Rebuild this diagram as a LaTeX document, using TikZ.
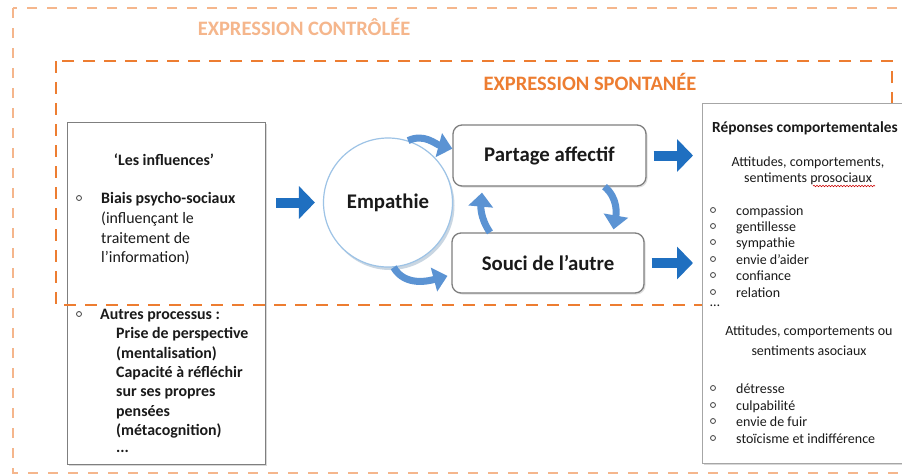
\documentclass[tikz,border=0pt]{standalone}
\usepackage{fontspec}
\setmainfont{Carlito}
\usetikzlibrary{arrows.meta,decorations.pathmorphing,shadows}
\definecolor{lorange}{HTML}{F5B68C}
\definecolor{dorange}{HTML}{ED7D31}
\definecolor{bblue}{HTML}{1F6FC0}
\definecolor{cblue}{HTML}{5B93D3}
\definecolor{ringblue}{HTML}{9DC3E6}
\definecolor{boxgray}{HTML}{7F7F7F}
\definecolor{txt}{HTML}{1A1A1A}
\newcommand{\lfnt}{\fontsize{15.9}{19}\selectfont}
\newcommand{\rfnt}{\fontsize{14}{17}\selectfont}
\newcommand{\bigfnt}{\fontsize{20.8}{25}\selectfont\bfseries}
\begin{document}
\begin{tikzpicture}[x=1pt,y=-1pt,
  outerdash/.style={draw=lorange,line width=2.2pt,dash pattern=on 10pt off 10pt},
  innerdash/.style={draw=dorange,line width=2.8pt,dash pattern=on 12pt off 9pt},
  sqbox/.style={draw=boxgray,line width=1.3pt,fill=white,inner sep=0pt,
    drop shadow={shadow xshift=1.5pt,shadow yshift=-1.5pt,fill=black!30}},
  rbox/.style={draw=boxgray,line width=1.3pt,fill=white,rounded corners=9pt,
    font=\bigfnt,text=txt,inner sep=0pt,
    drop shadow={shadow xshift=1.5pt,shadow yshift=-1.5pt,fill=black!25}},
  ring/.style={circle,draw=ringblue,line width=1.2pt,fill=white,font=\bigfnt,text=txt,
    drop shadow={shadow xshift=2pt,shadow yshift=-3pt,fill=ringblue!70!gray,opacity=0.5}},
  ltxt/.style={anchor=base west,inner sep=0pt,font=\lfnt,text=txt},
  ltxtb/.style={ltxt,font=\lfnt\bfseries},
  rtxt/.style={anchor=base west,inner sep=0pt,font=\rfnt,text=txt},
  rtxtc/.style={anchor=base,inner sep=0pt,font=\rfnt,text=txt},
  bul/.style={circle,draw=black!75,line width=0.8pt,inner sep=0pt,minimum size=5pt},
  blockarrow/.style={draw=bblue,line width=10pt,-{Triangle[width=32pt,length=16pt,fill=bblue]}},
  curvearrow/.style={draw=cblue,line width=7pt,-{Triangle[width=24pt,length=14pt,fill=cblue]}},
  heading/.style={font=\fontsize{20.5}{24}\selectfont\bfseries,inner sep=0pt}
]
\useasboundingbox (0,0) rectangle (902,475);
\clip (0,0) rectangle (902,475);
\fill[white] (0,0) rectangle (902,475);

% left box
\node[sqbox,anchor=north west,minimum width=198pt,minimum height=342pt] (infl) at (67,122) {};

% containers
\draw[outerdash] (13,8) rectangle (930,473);
\draw[innerdash] (56,61) rectangle (892,305);
\node[heading,text=lorange] (hctrl) at (304,27) {EXPRESSION CONTRÔLÉE};
\node[heading,text=dorange] (hspont) at (590,82) {EXPRESSION SPONTANÉE};

% right box
\node[sqbox,draw=black!35,anchor=north west,minimum width=230pt,minimum height=360pt] (resp) at (702,103) {};

% left box text
\node[anchor=base,inner sep=0pt,font=\lfnt\bfseries,text=txt] (tinf) at (164,165) {‘Les influences’};
\node[bul] (lb1) at (79,198) {};
\node[ltxtb] (l1) at (101,203) {Biais psycho-sociaux};
\node[ltxt] (l2) at (101,223) {(influençant le};
\node[ltxt] (l3) at (101,243) {traitement de};
\node[ltxt] (l4) at (101,262) {l’information)};
\node[bul] (lb2) at (79,314) {};
\node[ltxtb] (l5) at (100,319) {Autres processus :};
\node[ltxtb] (l6) at (116,338) {Prise de perspective};
\node[ltxtb] (l7) at (116,358) {(mentalisation)};
\node[ltxtb] (l8) at (116,377) {Capacité à réfléchir};
\node[ltxtb] (l9) at (116,396) {sur ses propres};
\node[ltxtb] (l10) at (116,416) {pensées};
\node[ltxtb] (l11) at (116,435) {(métacognition)};
\node[ltxtb] (l12) at (116,452) {...};

% centre
\node[ring,minimum size=129pt] (emp) at (388,202.5) {Empathie};
\node[rbox,minimum width=193pt,minimum height=61pt] (partage) at (549.5,155.5) {Partage affectif};
\node[rbox,minimum width=192pt,minimum height=60pt] (souci) at (548,263) {Souci de l’autre};

% right box text
\node[rtxt,font=\fontsize{15.4}{18}\selectfont\bfseries] (r0) at (712,132) {Réponses comportementales};
\node[rtxtc] (r1) at (808,166) {Attitudes, comportements,};
\node[rtxtc] (r2) at (808,182) {sentiments prosociaux};
\draw[red!80!black,line width=0.6pt,decorate,decoration={snake,amplitude=0.7pt,segment length=3pt}] (813,186) -- (875,186);
\node[bul] (rb1) at (713,210) {}; \node[rtxt] (r3) at (736,215) {compassion};
\node[bul] (rb2) at (713,226) {}; \node[rtxt] (r4) at (736,231) {gentillesse};
\node[bul] (rb3) at (713,242) {}; \node[rtxt] (r5) at (736,247) {sympathie};
\node[bul] (rb4) at (713,259) {}; \node[rtxt] (r6) at (736,264) {envie d’aider};
\node[bul] (rb5) at (713,275) {}; \node[rtxt] (r7) at (736,280) {confiance};
\node[bul] (rb6) at (713,292) {}; \node[rtxt] (r8) at (736,297) {relation};
\node[rtxt] (r9) at (710,306) {…};
\node[rtxtc] (r10) at (809,335) {Attitudes, comportements ou};
\node[rtxtc] (r11) at (809,355) {sentiments asociaux};
\node[bul] (rb7) at (713,388) {}; \node[rtxt] (r12) at (736,393) {détresse};
\node[bul] (rb8) at (713,405) {}; \node[rtxt] (r13) at (736,410) {culpabilité};
\node[bul] (rb9) at (713,421) {}; \node[rtxt] (r14) at (736,426) {envie de fuir};
\node[bul] (rb10) at (713,438) {}; \node[rtxt] (r15) at (736,443) {stoïcisme et indifférence};

% arrows
\draw[blockarrow,shorten <=10pt,shorten >=8pt] (infl.east |- emp.west) -- (emp.west);
\draw[blockarrow,shorten <=7pt,shorten >=9pt] (partage.east) -- (partage.east -| resp.west);
\draw[blockarrow,shorten <=7pt,shorten >=9pt] (souci.east) -- (souci.east -| resp.west);
\draw[curvearrow] (emp.72) to[out=25,in=165] (partage.176);
\draw[curvearrow,shorten >=4pt] (emp.-85) to[out=-60,in=195] (souci.187);
\draw[curvearrow,shorten >=3pt] ([xshift=55pt]partage.south) to[out=-40,in=80] ([xshift=65pt]souci.north);
\draw[curvearrow,shorten >=6pt] ([xshift=-58pt]souci.north) to[out=125,in=-95] ([xshift=-67pt]partage.south);
\end{tikzpicture}
\end{document}
